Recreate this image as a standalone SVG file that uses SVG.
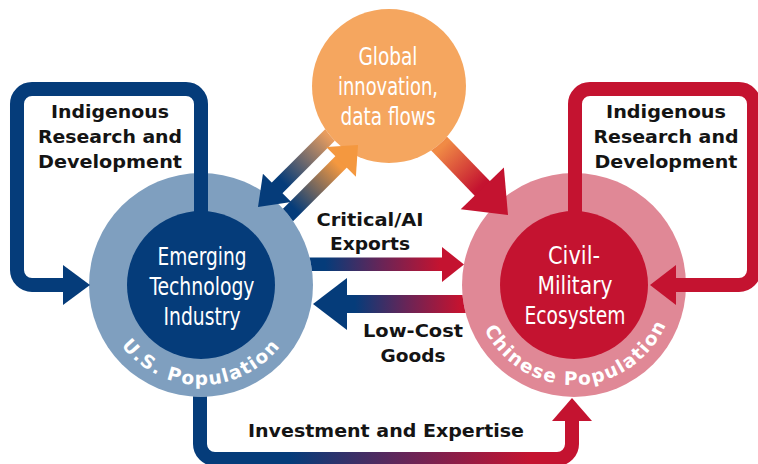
<svg xmlns="http://www.w3.org/2000/svg" width="758" height="464" viewBox="0 0 758 464">
  <style>
    .lbl { font-family: "DejaVu Sans", "Liberation Sans", sans-serif; font-weight: bold; font-size: 17px; fill: #141414; text-anchor: middle; }
    .core { font-family: "Liberation Sans Narrow", "DejaVu Sans Condensed", "Liberation Sans", sans-serif; font-size: 24px; fill: #ffffff; text-anchor: middle; }
    .arc { font-family: "DejaVu Sans", "Liberation Sans", sans-serif; font-weight: bold; font-size: 18.5px; letter-spacing: 1.5px; fill: #ffffff; text-anchor: middle; }
    .blue { fill: #053c7a; }
    .red { fill: #c41330; }
    .orange { fill: #f4983f; }
  </style>
  <defs>
    <!-- areas outside each circle, used to trim connector tails -->
    <clipPath id="outUS"><path clip-rule="evenodd" d="M0 0H758V464H0Z M89 285a112 112 0 1 0 224 0a112 112 0 1 0 -224 0Z"/></clipPath>
    <clipPath id="outCN"><path clip-rule="evenodd" d="M0 0H758V464H0Z M462 285a112 112 0 1 0 224 0a112 112 0 1 0 -224 0Z"/></clipPath>
    <clipPath id="outGL"><path clip-rule="evenodd" d="M0 0H758V464H0Z M312 86a77 77 0 1 0 154 0a77 77 0 1 0 -154 0Z"/></clipPath>

    <linearGradient id="gBottom" gradientUnits="userSpaceOnUse" x1="290" y1="0" x2="530" y2="0">
      <stop offset="0" stop-color="#053c7a"/>
      <stop offset="0.5" stop-color="#6a2456"/>
      <stop offset="1" stop-color="#c41330"/>
    </linearGradient>
    <linearGradient id="gExports" gradientUnits="userSpaceOnUse" x1="325" y1="0" x2="440" y2="0">
      <stop offset="0" stop-color="#053c7a"/>
      <stop offset="0.5" stop-color="#6a2456"/>
      <stop offset="1" stop-color="#c41330"/>
    </linearGradient>
    <linearGradient id="gGoods" gradientUnits="userSpaceOnUse" x1="355" y1="0" x2="460" y2="0">
      <stop offset="0" stop-color="#053c7a"/>
      <stop offset="0.5" stop-color="#6a2456"/>
      <stop offset="1" stop-color="#c41330"/>
    </linearGradient>
    <!-- diagonal arrows are drawn pointing along +x, so these run along x -->
    <linearGradient id="gToUS" gradientUnits="userSpaceOnUse" x1="-100" y1="0" x2="-35" y2="0">
      <stop offset="0" stop-color="#e99d5e"/>
      <stop offset="1" stop-color="#053c7a"/>
    </linearGradient>
    <linearGradient id="gToGL" gradientUnits="userSpaceOnUse" x1="-90" y1="0" x2="-28" y2="0">
      <stop offset="0" stop-color="#053c7a"/>
      <stop offset="1" stop-color="#f4983f"/>
    </linearGradient>
    <linearGradient id="gToCN" gradientUnits="userSpaceOnUse" x1="-95" y1="0" x2="-40" y2="0">
      <stop offset="0" stop-color="#f08a45"/>
      <stop offset="1" stop-color="#c41330"/>
    </linearGradient>

    <path id="arcUS" d="M101 285A100 100 0 0 0 301 285"/>
    <path id="arcCN" d="M474 285A100 100 0 0 0 674 285"/>
  </defs>

  <rect width="758" height="464" fill="#ffffff"/>

  <!-- U.S. side -->
  <g id="us-population">
    <circle cx="201" cy="285" r="112" fill="#7f9fbf"/>
    <text class="arc"><textPath href="#arcUS" startOffset="50%">U.S. Population</textPath></text>
  </g>
  <g id="emerging-tech">
    <circle cx="201" cy="285" r="74" class="blue"/>
    <text class="core" x="202" y="265" textLength="89" lengthAdjust="spacingAndGlyphs">Emerging</text>
    <text class="core" x="202" y="295" textLength="105" lengthAdjust="spacingAndGlyphs">Technology</text>
    <text class="core" x="202" y="325" textLength="77" lengthAdjust="spacingAndGlyphs">Industry</text>
  </g>

  <!-- Chinese side -->
  <g id="chinese-population">
    <circle cx="574" cy="285" r="112" fill="#e08896"/>
    <text class="arc"><textPath href="#arcCN" startOffset="51%">Chinese Population</textPath></text>
  </g>
  <g id="civil-military">
    <circle cx="574" cy="285" r="74" class="red"/>
    <text class="core" x="574" y="264" textLength="52" lengthAdjust="spacingAndGlyphs">Civil-</text>
    <text class="core" x="575" y="294" textLength="75" lengthAdjust="spacingAndGlyphs">Military</text>
    <text class="core" x="575" y="324" textLength="101" lengthAdjust="spacingAndGlyphs">Ecosystem</text>
  </g>

  <!-- global hub -->
  <g id="global-innovation">
    <circle cx="389" cy="86" r="77" fill="#f5a65f"/>
    <text class="core" x="388" y="65" textLength="59" lengthAdjust="spacingAndGlyphs">Global</text>
    <text class="core" x="388" y="95" textLength="100" lengthAdjust="spacingAndGlyphs">innovation,</text>
    <text class="core" x="388" y="125" textLength="95" lengthAdjust="spacingAndGlyphs">data flows</text>
  </g>

  <g id="connectors">
    <!-- U.S. indigenous R&D loop -->
    <g id="loop-us">
      <path d="M201 215V104A15 15 0 0 0 186 89H32A15 15 0 0 0 17 104V270A15 15 0 0 0 32 285H65" fill="none" stroke="#053c7a" stroke-width="14"/>
      <polygon class="blue" points="63,265 90,285 63,305"/>
    </g>
    <!-- Chinese indigenous R&D loop -->
    <g id="loop-cn">
      <path d="M575 215V104A15 15 0 0 1 590 89H739A15 15 0 0 1 754 104V270A15 15 0 0 1 739 285H674" fill="none" stroke="#c41330" stroke-width="14"/>
      <polygon class="red" points="676,265 650,285 676,305"/>
    </g>
    <!-- investment and expertise -->
    <g id="investment" clip-path="url(#outUS)">
      <path d="M200 390V444A15 15 0 0 0 215 459H557A15 15 0 0 0 572 444V419" fill="none" stroke="url(#gBottom)" stroke-width="14"/>
      <polygon class="red" points="552,421 572,398 592,421"/>
    </g>
    <!-- critical / AI exports -->
    <g id="exports" clip-path="url(#outUS)">
      <rect x="300" y="257.5" width="143" height="13.5" fill="url(#gExports)"/>
      <polygon class="red" points="442,247 464,264.5 442,282"/>
    </g>
    <!-- low-cost goods -->
    <g id="goods" clip-path="url(#outCN)">
      <rect x="346" y="295" width="125" height="18" fill="url(#gGoods)"/>
      <polygon class="blue" points="347,278 313,304 347,330"/>
    </g>
    <!-- global hub to U.S. -->
    <g id="global-to-us" clip-path="url(#outGL)">
      <g transform="translate(258 207) rotate(135)">
        <rect x="-112" y="-7.5" width="86" height="15" fill="url(#gToUS)"/>
        <polygon class="blue" points="0,0 -27,-20 -27,20"/>
      </g>
    </g>
    <!-- U.S. to global hub -->
    <g id="us-to-global" clip-path="url(#outUS)">
      <g transform="translate(358 145) rotate(-45)">
        <rect x="-108" y="-8" width="85" height="16" fill="url(#gToGL)"/>
        <polygon class="orange" points="0,0 -24,-21 -24,21"/>
      </g>
    </g>
    <!-- global hub to China -->
    <g id="global-to-cn" clip-path="url(#outGL)">
      <g transform="translate(508 215) rotate(46)">
        <rect x="-108" y="-10.5" width="72" height="21" fill="url(#gToCN)"/>
        <polygon class="red" points="0,0 -37,-30 -37,30"/>
      </g>
    </g>
  </g>

  <!-- connector labels -->
  <g id="labels">
    <text class="lbl" x="110" y="118" textLength="118" lengthAdjust="spacingAndGlyphs">Indigenous</text>
    <text class="lbl" x="110" y="143" textLength="144" lengthAdjust="spacingAndGlyphs">Research and</text>
    <text class="lbl" x="110" y="168" textLength="144" lengthAdjust="spacingAndGlyphs">Development</text>
    <text class="lbl" x="666" y="118" textLength="120" lengthAdjust="spacingAndGlyphs">Indigenous</text>
    <text class="lbl" x="666" y="143" textLength="145" lengthAdjust="spacingAndGlyphs">Research and</text>
    <text class="lbl" x="666" y="168" textLength="143" lengthAdjust="spacingAndGlyphs">Development</text>
    <text class="lbl" x="370" y="226" textLength="107" lengthAdjust="spacingAndGlyphs">Critical/AI</text>
    <text class="lbl" x="370" y="250" textLength="80" lengthAdjust="spacingAndGlyphs">Exports</text>
    <text class="lbl" x="413" y="337" textLength="100" lengthAdjust="spacingAndGlyphs">Low-Cost</text>
    <text class="lbl" x="413" y="362" textLength="65" lengthAdjust="spacingAndGlyphs">Goods</text>
    <text class="lbl" x="386" y="437" textLength="276" lengthAdjust="spacingAndGlyphs">Investment and Expertise</text>
  </g>
</svg>
